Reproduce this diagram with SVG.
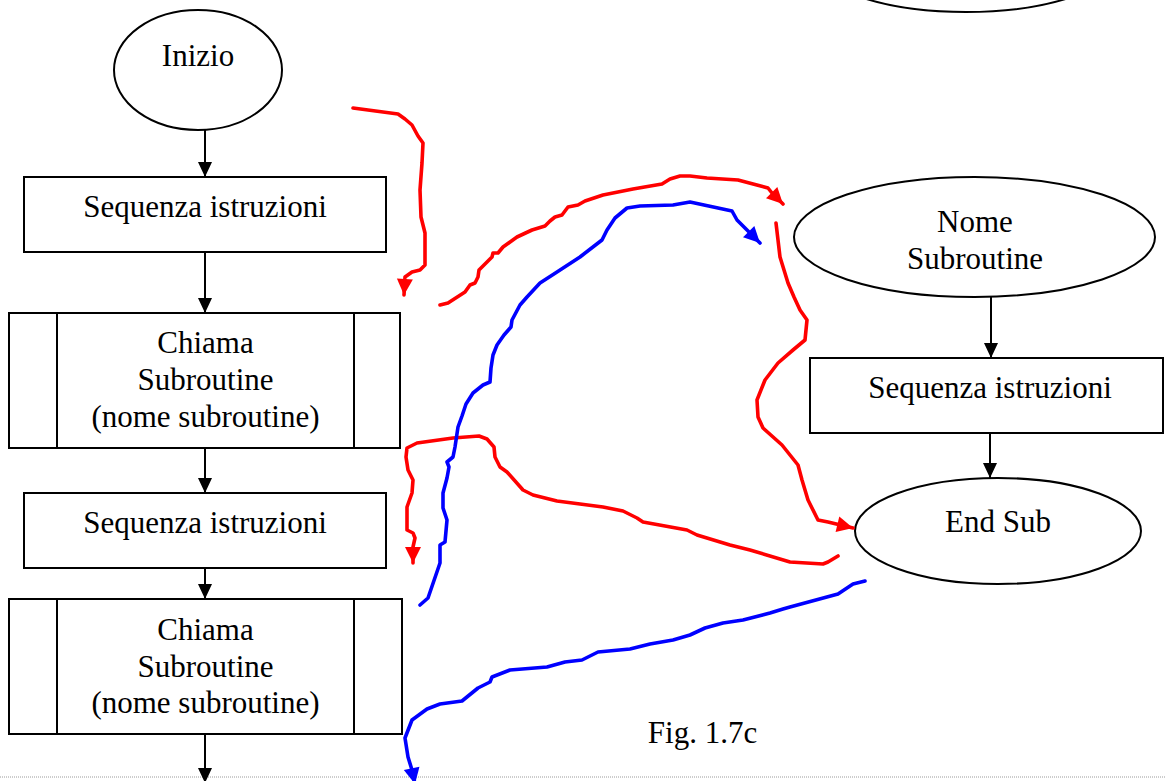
<svg xmlns="http://www.w3.org/2000/svg" width="1165" height="781" viewBox="0 0 1165 781">
  <style>
    .shape { fill: #ffffff; stroke: #000000; stroke-width: 2; }
    .label { font-family: "Liberation Serif", "Times New Roman", serif; font-size: 31px; fill: #000000; text-anchor: middle; }
    .flow { fill: none; stroke: #000000; stroke-width: 2; marker-end: url(#blackHead); }
    .red { fill: none; stroke: #ff0000; stroke-width: 3.6; stroke-linejoin: round; stroke-linecap: round; }
    .blue { fill: none; stroke: #0000ff; stroke-width: 3.6; stroke-linejoin: round; stroke-linecap: round; }
    .redArrow { marker-end: url(#redHead); }
    .blueArrow { marker-end: url(#blueHead); }
  </style>
  <defs>
    <marker id="blackHead" markerUnits="userSpaceOnUse" markerWidth="18" markerHeight="18" viewBox="-16 -9 18 18" refX="0" refY="0" orient="auto">
      <path d="M0,0 L-15,-7 L-15,7 Z" fill="#000000"/>
    </marker>
    <marker id="redHead" markerUnits="userSpaceOnUse" markerWidth="20" markerHeight="20" viewBox="-17 -10 20 20" refX="0" refY="0" orient="auto">
      <path d="M0,0 L-16,-8 L-16,8 Z" fill="#ff0000"/>
    </marker>
    <marker id="blueHead" markerUnits="userSpaceOnUse" markerWidth="20" markerHeight="20" viewBox="-17 -10 20 20" refX="0" refY="0" orient="auto">
      <path d="M0,0 L-16,-8 L-16,8 Z" fill="#0000ff"/>
    </marker>
  </defs>

  <rect x="0" y="0" width="1165" height="781" fill="#ffffff"/>

  <!-- page break rule -->
  <line x1="0" y1="777" x2="1165" y2="777" stroke="#9a9a9a" stroke-width="1" stroke-dasharray="1,1"/>

  <!-- main program -->
  <g id="inizio">
    <ellipse class="shape" cx="198" cy="70" rx="84" ry="60"/>
    <text class="label" x="198" y="66">Inizio</text>
  </g>

  <g id="sequenza1">
    <rect class="shape" x="24" y="177" width="362" height="75"/>
    <text class="label" x="205" y="217">Sequenza istruzioni</text>
  </g>

  <g id="chiama1">
    <rect class="shape" x="9" y="313" width="391" height="135"/>
    <line class="shape" x1="57" y1="313" x2="57" y2="448"/>
    <line class="shape" x1="354" y1="313" x2="354" y2="448"/>
    <text class="label" x="205.5" y="353">Chiama</text>
    <text class="label" x="205.5" y="390">Subroutine</text>
    <text class="label" x="205.5" y="427">(nome subroutine)</text>
  </g>

  <g id="sequenza2">
    <rect class="shape" x="24" y="493" width="362" height="75"/>
    <text class="label" x="205" y="533">Sequenza istruzioni</text>
  </g>

  <g id="chiama2">
    <rect class="shape" x="9" y="599" width="393" height="135"/>
    <line class="shape" x1="57" y1="599" x2="57" y2="734"/>
    <line class="shape" x1="354" y1="599" x2="354" y2="734"/>
    <text class="label" x="205.5" y="640">Chiama</text>
    <text class="label" x="205.5" y="677">Subroutine</text>
    <text class="label" x="205.5" y="713">(nome subroutine)</text>
  </g>

  <!-- subroutine -->
  <g id="ellisse-alto">
    <ellipse class="shape" cx="966" cy="-48" rx="160" ry="60"/>
  </g>

  <g id="nome-subroutine">
    <ellipse class="shape" cx="974.5" cy="237" rx="180.5" ry="60"/>
    <text class="label" x="975" y="232">Nome</text>
    <text class="label" x="975" y="269">Subroutine</text>
  </g>

  <g id="sequenza-sub">
    <rect class="shape" x="810" y="358" width="353" height="75"/>
    <text class="label" x="990" y="398">Sequenza istruzioni</text>
  </g>

  <g id="end-sub">
    <ellipse class="shape" cx="998" cy="531" rx="143" ry="53"/>
    <text class="label" x="998" y="532">End Sub</text>
  </g>

  <g id="didascalia">
    <text class="label" x="702.5" y="743">Fig. 1.7c</text>
  </g>

  <g id="connectors">
    <!-- flowchart arrows -->
    <line class="flow" x1="205" y1="130" x2="205" y2="177"/>
    <line class="flow" x1="205" y1="252" x2="205" y2="313"/>
    <line class="flow" x1="205" y1="448" x2="205" y2="493"/>
    <line class="flow" x1="205" y1="568" x2="205" y2="599"/>
    <line class="flow" x1="205" y1="734" x2="205" y2="783"/>
    <line class="flow" x1="991" y1="297" x2="991" y2="358"/>
    <line class="flow" x1="990" y1="433" x2="990" y2="478"/>

    <!-- execution path: start of main program -->
    <path class="red redArrow" d="M353,108 L398,114 L405,119 L412,125 L418,136 L423,143 L422,163 L420,190 L421,217 L425,233 L425,265 L420,270 L412,272 L405,277 L404,295"/>

    <!-- execution path: call into the subroutine -->
    <path class="red redArrow" d="M440,305 L448,303 L465,292 L470,285 L475,283 L478,277 L479,270 L487,262 L492,257 L493,253 L498,253 L503,247 L517,237 L532,230 L545,226 L550,221 L555,217 L562,215 L568,207 L578,205 L585,201 L603,195 L633,189 L662,184 L670,179 L680,176 L690,176 L707,178 L738,180 L768,188 L772,193 L783,204"/>

    <!-- execution path: through the subroutine body -->
    <path class="red redArrow" d="M776,223 L778,240 L780,257 L784,270 L788,283 L794,297 L800,310 L807,320 L805,340 L793,350 L778,363 L765,380 L757,400 L758,417 L763,428 L782,445 L798,465 L802,480 L808,500 L818,520 L828,522 L853,528"/>

    <!-- execution path: return after first call -->
    <path class="red redArrow" d="M838,556 L828,562 L823,564 L790,562 L750,550 L730,545 L697,535 L687,530 L643,522 L637,518 L623,511 L603,507 L557,501 L533,495 L523,490 L507,472 L500,467 L495,457 L494,447 L487,439 L479,436 L453,438 L417,443 L407,448 L406,457 L408,470 L413,480 L412,493 L407,507 L407,530 L413,533 L415,538 L413,547 L413,563"/>

    <!-- execution path: second call into the subroutine -->
    <path class="blue blueArrow" d="M420,605 L428,598 L440,563 L440,545 L445,542 L447,520 L443,508 L443,493 L447,478 L449,467 L447,462 L453,457 L455,447 L458,427 L462,416 L466,404 L473,393 L483,385 L490,382 L491,368 L493,355 L497,345 L504,335 L511,327 L512,320 L520,305 L527,297 L540,283 L557,272 L580,257 L602,240 L607,230 L615,218 L627,208 L640,206 L673,205 L690,202 L732,211 L737,220 L742,225 L760,243"/>

    <!-- execution path: return after second call -->
    <path class="blue blueArrow" d="M865,581 L853,584 L838,594 L790,607 L783,609 L770,613 L743,620 L723,623 L705,628 L690,635 L673,640 L650,644 L630,649 L598,652 L582,660 L565,662 L547,667 L510,670 L492,677 L490,682 L478,688 L462,701 L440,704 L427,709 L412,720 L405,738 L408,757 L412,770 L415,784"/>
  </g>
</svg>
